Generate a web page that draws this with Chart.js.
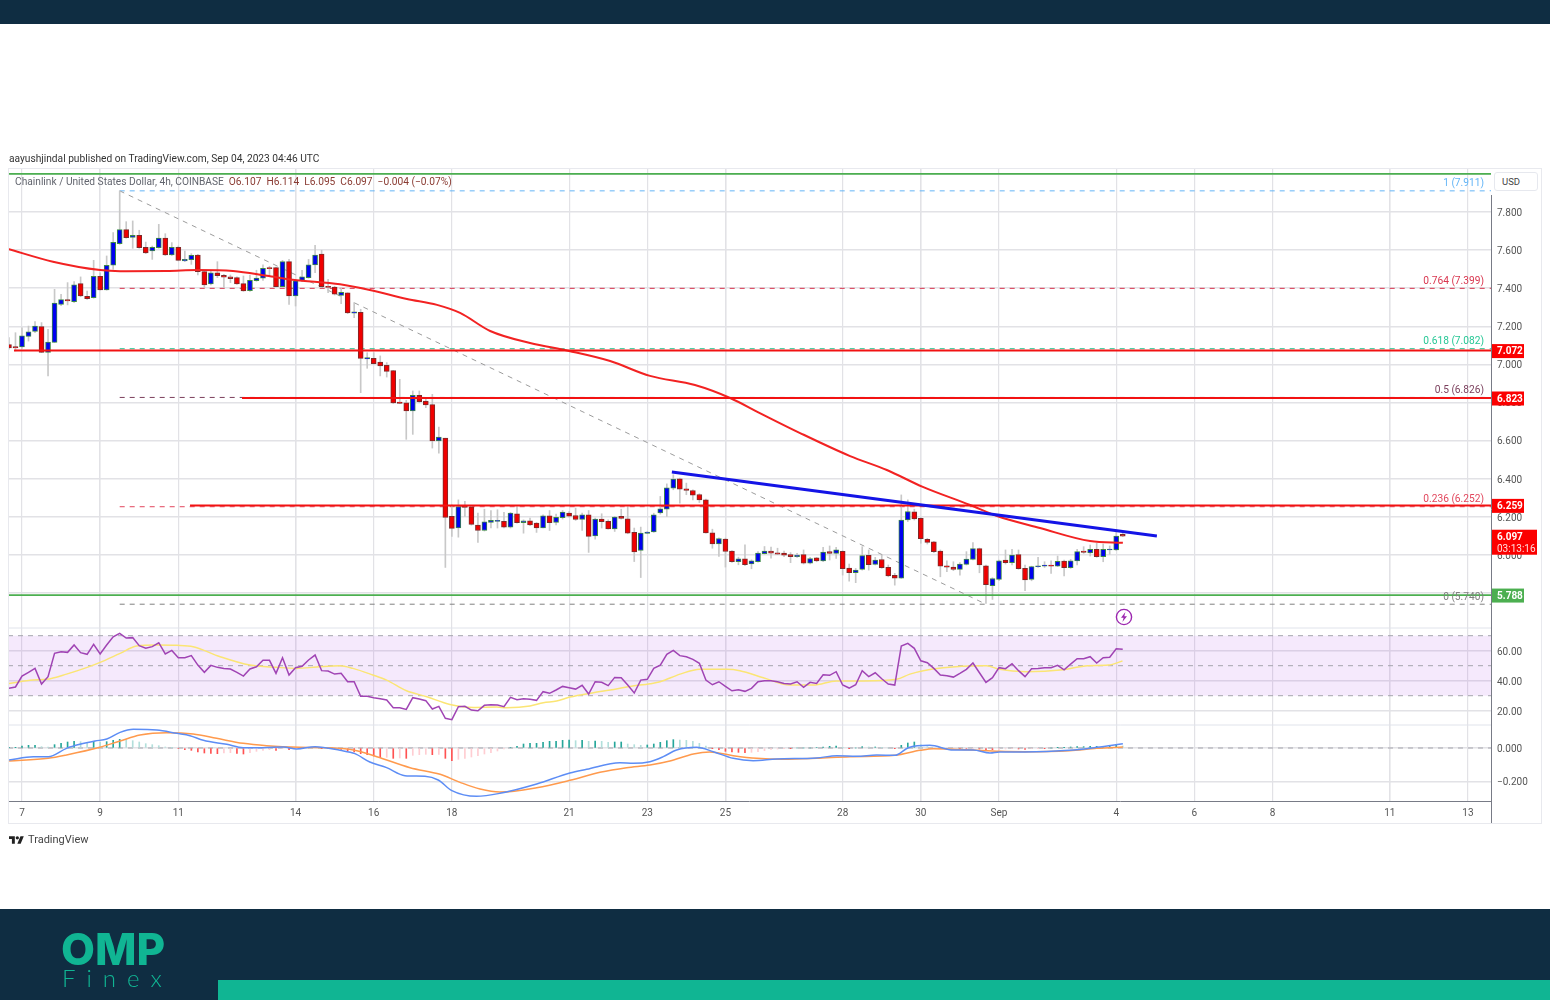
<!DOCTYPE html>
<html>
<head>
<meta charset="utf-8">
<title>Chainlink / USD</title>
<script src="https://cdn.jsdelivr.net/npm/chart.js@4/dist/chart.umd.min.js"></script>
<style>
  html, body { margin: 0; padding: 0; background: #fff; width: 1550px; height: 1000px; overflow: hidden; font-family: Roboto, sans-serif; }
  canvas { position: absolute; left: 0; top: 0; }
  .abs { position: absolute; white-space: nowrap; }
  #topBand { left: 0; top: 0; width: 1550px; height: 24px; background: #0f2d42; }
  #bottomBand { left: 0; top: 909px; width: 1550px; height: 91px; background: #0f2d42; }
  #tealBar { left: 218px; top: 980px; width: 1332px; height: 20px; background: #10b593; }
  #frame { left: 8px; top: 168px; width: 1534px; height: 656px; border: 1px solid #e8e9ee; box-sizing: border-box; }
  #usd { left: 1494px; top: 172px; width: 44px; height: 19px; border: 1px solid #e6e8ee; border-radius: 3px; box-sizing: border-box; padding-left: 7px; font-size: 9.5px; line-height: 18px; color: #444; background: #fff; }
  #published { left: 9px; top: 153px; font-size: 10.2px; color: #333; }
  #legend { left: 15px; top: 176px; font-size: 10.2px; color: #62656e; }
  #legend b { font-weight: 400; color: #8a3b32; margin-left: 5px; }
  #tvName { left: 28px; top: 833px; font-size: 11px; color: #444; }
  #omp { left: 61px; top: 922px; font-family: Inter, sans-serif; font-weight: 800; font-size: 44px; line-height: 54px; color: #10b593; }
  #finex { left: 62px; top: 963px; font-family: Lato, sans-serif; font-weight: 300; font-size: 24px; line-height: 30px; letter-spacing: 11px; color: #10b593; }
</style>
</head>
<body>
<div class="abs" id="topBand"></div>
<div class="abs" id="bottomBand"></div>
<div class="abs" id="tealBar"></div>
<canvas id="chart" width="1550" height="1000"></canvas>
<div class="abs" id="frame"></div>
<div class="abs" id="usd">USD</div>
<div class="abs" id="published">aayushjindal published on TradingView.com, Sep 04, 2023 04:46 UTC</div>
<div class="abs" id="legend">Chainlink / United States Dollar, 4h, COINBASE<b>O6.107</b><b>H6.114</b><b>L6.095</b><b>C6.097</b><b>−0.004 (−0.07%)</b></div>
<svg class="abs" style="left:9px;top:835px" width="15" height="9" viewBox="0 0 36 20"><path fill="#222" d="M14 20H7V9H0V2h14v18zM28 20h-8l7.5-18h8L28 20z"/><circle fill="#222" cx="20" cy="6" r="4"/></svg>
<div class="abs" id="tvName">TradingView</div>
<svg class="abs" style="left:1115px;top:608px" width="18" height="18" viewBox="0 0 18 18"><circle cx="9" cy="9" r="7.6" fill="#fff" stroke="#9c27b0" stroke-width="1.4"/><path fill="#9c27b0" d="M10.4 4 6 9.8h2.6L7.4 14 12 8.2H9.3z"/></svg>
<div class="abs" id="omp">OMP</div>
<div class="abs" id="finex">Finex</div>

<script>
// 4h candles, first one is Aug 6 16:00, days count from Aug 0 so Sep 1 = 32
const firstBarDay = 7 - 2 / 6;
const opens = [
  7.103,7.093,7.091,7.147,7.173,7.198,7.063,7.115,7.315,7.340,
  7.329,7.424,7.357,7.350,7.462,7.390,7.520,7.634,7.707,7.667,
  7.678,7.614,7.595,7.613,7.663,7.574,7.614,7.543,7.550,7.574,
  7.487,7.422,7.481,7.467,7.459,7.455,7.424,7.387,7.439,7.453,
  7.508,7.508,7.408,7.539,7.359,7.441,7.455,7.522,7.579,7.410,
  7.406,7.362,7.375,7.268,7.273,7.028,7.031,7.012,6.995,6.967,
  6.802,6.798,6.755,6.837,6.807,6.788,6.598,6.612,6.201,6.141,
  6.257,6.252,6.155,6.127,6.169,6.175,6.175,6.145,6.215,6.168,
  6.178,6.166,6.141,6.204,6.169,6.194,6.218,6.206,6.185,6.210,
  6.099,6.187,6.175,6.136,6.201,6.189,6.117,6.022,6.112,6.119,
  6.220,6.239,6.350,6.399,6.346,6.337,6.316,6.288,6.115,6.057,
  6.082,6.019,5.964,5.978,5.952,5.964,6.006,6.019,6.010,6.009,
  6.000,5.990,6.000,5.955,5.983,5.967,6.016,6.007,6.018,5.930,
  5.905,5.923,5.997,5.949,5.975,5.933,5.891,5.877,6.182,6.225,
  6.191,6.081,6.067,6.019,5.942,5.935,5.923,5.949,5.975,6.032,
  5.942,5.837,5.870,5.972,5.958,6.000,5.928,5.870,5.937,5.940,
  5.946,5.940,5.967,5.932,5.967,6.019,6.009,6.028,5.990,6.025,
  6.025,6.107];
const closes = [
  7.086,7.086,7.149,7.171,7.201,7.063,7.117,7.322,7.340,7.333,
  7.418,7.359,7.345,7.462,7.390,7.520,7.641,7.707,7.665,7.678,
  7.613,7.585,7.614,7.663,7.574,7.614,7.546,7.551,7.572,7.487,
  7.417,7.481,7.466,7.457,7.450,7.422,7.385,7.441,7.453,7.504,
  7.502,7.408,7.539,7.359,7.438,7.459,7.522,7.574,7.408,7.404,
  7.368,7.378,7.270,7.275,7.031,7.035,7.003,6.991,6.963,6.797,
  6.795,6.755,6.837,6.804,6.786,6.597,6.618,6.196,6.138,6.253,
  6.248,6.159,6.127,6.173,6.180,6.180,6.145,6.218,6.168,6.178,
  6.157,6.141,6.204,6.168,6.196,6.224,6.203,6.185,6.210,6.096,
  6.187,6.173,6.136,6.197,6.190,6.113,6.015,6.113,6.119,6.210,
  6.241,6.351,6.397,6.344,6.337,6.313,6.288,6.115,6.057,6.085,
  6.017,5.964,5.978,5.947,5.968,6.008,6.019,6.008,6.003,5.997,
  5.990,5.998,5.955,5.979,5.967,6.014,6.007,6.026,5.926,5.905,
  5.919,5.995,5.947,5.972,5.932,5.888,5.877,6.182,6.226,6.188,
  6.084,6.065,6.016,5.940,5.935,5.923,5.951,5.977,6.032,5.946,
  5.842,5.875,5.968,5.958,5.998,5.926,5.868,5.937,5.942,5.946,
  5.940,5.965,5.932,5.968,6.016,6.012,6.028,5.990,6.028,6.030,
  6.098,6.097];
const highs = [
  7.140,7.166,7.192,7.201,7.224,7.219,7.184,7.394,7.368,7.429,
  7.434,7.459,7.385,7.546,7.481,7.569,7.692,7.910,7.749,7.753,
  7.704,7.642,7.621,7.735,7.686,7.639,7.621,7.595,7.581,7.578,
  7.494,7.494,7.539,7.473,7.469,7.459,7.464,7.469,7.494,7.522,
  7.515,7.511,7.546,7.551,7.446,7.494,7.551,7.625,7.599,7.446,
  7.410,7.399,7.376,7.324,7.289,7.061,7.061,7.044,7.009,6.968,
  6.921,6.811,6.860,6.860,6.825,6.842,6.670,6.612,6.262,6.288,
  6.280,6.257,6.218,6.239,6.232,6.236,6.222,6.222,6.253,6.183,
  6.192,6.169,6.210,6.232,6.213,6.232,6.227,6.245,6.218,6.232,
  6.192,6.215,6.183,6.201,6.239,6.253,6.140,6.145,6.122,6.218,
  6.306,6.372,6.420,6.402,6.376,6.341,6.320,6.292,6.134,6.089,
  6.087,6.022,5.987,6.052,5.973,6.017,6.043,6.040,6.034,6.019,
  6.011,6.007,6.025,5.986,5.986,6.039,6.046,6.039,6.021,5.951,
  5.928,6.042,6.025,5.986,5.998,5.946,5.902,6.314,6.288,6.239,
  6.195,6.086,6.070,6.025,5.968,5.963,5.958,6.016,6.063,6.035,
  5.946,5.879,5.972,6.025,6.028,6.025,5.946,5.940,5.986,5.963,
  5.968,5.993,5.972,5.975,6.028,6.042,6.051,6.060,6.056,6.046,
  6.130,6.114];
const lows = [
  7.079,7.070,7.084,7.122,7.166,7.061,6.939,7.114,7.308,7.312,
  7.324,7.355,7.341,7.347,7.389,7.389,7.499,7.630,7.662,7.609,
  7.609,7.581,7.551,7.609,7.571,7.571,7.543,7.539,7.525,7.469,
  7.403,7.417,7.455,7.403,7.429,7.420,7.383,7.383,7.436,7.441,
  7.469,7.406,7.406,7.315,7.306,7.434,7.452,7.481,7.403,7.376,
  7.364,7.318,7.266,7.245,6.851,6.979,7.000,6.939,6.933,6.793,
  6.793,6.606,6.632,6.798,6.772,6.560,6.533,5.933,6.096,6.092,
  6.201,6.155,6.064,6.124,6.140,6.140,6.140,6.140,6.166,6.113,
  6.152,6.117,6.140,6.127,6.157,6.187,6.197,6.180,6.127,6.012,
  6.082,6.140,6.134,6.122,6.187,6.110,5.964,5.880,6.110,6.117,
  6.213,6.201,6.341,6.271,6.315,6.288,6.274,6.113,6.034,5.991,
  5.935,5.959,5.947,5.943,5.926,5.961,6.003,5.982,6.000,5.990,
  5.958,5.986,5.951,5.951,5.963,5.963,5.972,5.981,5.893,5.861,
  5.853,5.919,5.919,5.946,5.928,5.884,5.840,5.875,6.174,6.182,
  6.060,6.056,6.011,5.884,5.911,5.916,5.893,5.946,5.972,5.905,
  5.744,5.765,5.863,5.951,5.946,5.923,5.811,5.863,5.933,5.933,
  5.902,5.937,5.889,5.928,5.946,6.007,5.993,5.986,5.963,6.002,
  6.021,6.095];

// moving average over the candles
const emaDays = [6.642,7.793,9.0,9.51,10.71,11.48,12.40,13.27,13.93,15.14,15.90,16.85,17.62,18.21,18.98,20.0,21.0,22.05,23.07,24.22,25.12,25.88,26.91,28.19,29.13,30.05,31.26,31.95,33.05,34.33,35.17];
const emaPrices = [7.606,7.539,7.495,7.489,7.490,7.495,7.490,7.465,7.444,7.420,7.390,7.343,7.312,7.270,7.175,7.112,7.070,7.017,6.939,6.891,6.823,6.744,6.639,6.518,6.445,6.356,6.261,6.203,6.140,6.072,6.063];

// drawn levels
const levelPrices = [7.072, 6.823, 6.259];
const levelStartDays = [6.795, 12.63, 11.30];
const supportPrices = [8.0, 5.788];

// fibonacci retracement
const fibStartDay = 9.5;
const fibRatios = ['1', '0.764', '0.618', '0.5', '0.236', '0'];
const fibPrices = [7.911, 7.399, 7.082, 6.826, 6.252, 5.740];
const fibColors = ['#64b5f6', '#d9364f', '#26c795', '#7b3f5c', '#e2465c', '#808080'];

// trendlines
const diagonalDays = [9.5, 31.667];
const diagonalPrices = [7.911, 5.740];
const trendDays = [23.63, 36.04];
const trendPrices = [6.434, 6.098];

// RSI
const rsiValues = [
  34.9,35.8,43.1,45.6,48.2,37.8,42.7,58.2,59.3,58.9,
  63.8,58.7,57.6,64.2,57.8,63.8,69.3,71.6,68.4,68.7,
  63.3,61.6,62.7,65.3,57.8,60.2,55.3,55.3,56.7,50.4,
  45.6,50.2,48.9,48.2,47.8,45.6,43.1,47.8,49.3,53.6,
  53.6,44.9,55.3,43.8,48.7,49.6,53.8,57.1,46.7,46.4,
  44.4,44.9,39.3,39.3,29.6,29.6,28.7,28.0,27.1,22.0,
  22.0,20.9,28.7,27.8,26.7,21.1,22.9,14.9,14.0,22.7,
  22.9,20.4,20.0,23.6,24.0,23.8,22.7,28.9,27.3,28.0,
  27.6,26.9,32.7,31.6,33.8,36.2,35.3,34.4,36.9,31.1,
  39.3,38.9,36.7,42.2,42.0,37.1,31.8,40.4,40.9,48.2,
  50.4,57.6,60.2,56.7,56.0,54.2,51.6,40.4,37.3,39.3,
  36.2,33.3,34.0,32.9,34.9,39.3,40.0,40.0,39.3,38.2,
  37.8,39.3,35.6,38.9,38.2,44.0,43.6,46.0,37.1,35.1,
  37.3,46.7,42.7,45.3,41.3,37.8,37.1,63.1,64.9,61.6,
  53.3,52.0,48.2,43.8,43.3,42.4,44.9,47.6,51.8,45.3,
  38.9,42.0,48.7,48.0,51.3,46.7,42.7,48.0,48.2,48.7,
  48.7,50.2,47.3,51.1,54.7,54.7,56.0,51.8,55.3,55.6,
  61.3,60.9];
const rsiMaDays = [6.667,7.29,7.63,8.14,8.65,9.0,9.51,9.93,10.45,10.96,11.38,12.07,12.83,13.52,14.03,14.54,15.14,15.47,15.98,16.33,16.84,17.36,17.95,18.55,19.15,19.40,20.0,20.34,20.68,21.02,21.62,22.05,22.56,23.07,23.33,23.84,24.35,25.03,25.37,25.97,26.65,27.25,27.84,28.52,29.38,29.72,30.06,30.57,31.51,31.68,32.01,32.69,33.64,34.27,34.80,35.16];
const rsiMaValues = [38.2,40.4,40.9,44.4,48.7,52.2,58.2,63.1,63.8,63.6,62.7,56.0,50.4,48.9,48.2,49.1,50.0,48.2,43.8,40.4,33.3,29.3,24.2,22.2,22.4,22.0,23.1,25.3,26.4,29.1,32.0,33.8,36.2,38.0,39.3,44.4,47.6,47.6,46.7,42.0,37.1,37.1,39.8,39.8,40.9,44.4,46.7,48.7,50.0,50.0,47.6,46.0,47.3,50.0,50.4,53.1];
const rsiBand = [30, 70];
const rsiMid = 50;

// MACD
const macdDays = [6.67,7.29,7.67,8.14,8.48,8.87,9.17,9.51,9.85,10.45,10.96,11.30,11.64,12.24,12.66,13.17,13.69,14.03,14.50,15.14,15.52,15.90,16.33,16.80,17.31,17.65,18.0,18.63,19.23,20.17,21.02,21.45,22.30,22.64,23.07,23.41,23.75,24.26,24.69,25.2,25.71,26.31,27.33,27.85,28.36,28.87,29.34,29.68,30.23,30.83,31.34,31.77,32.02,32.65,33.8,34.5,35.17];
const macdValues = [-.072,-.052,-.052,-.002,.022,.042,.054,.094,.112,.108,.088,.074,.046,.022,.002,.002,.006,-.006,.008,-.014,-.034,-.084,-.118,-.166,-.17,-.192,-.256,-.29,-.272,-.216,-.15,-.128,-.088,-.092,-.082,-.052,-.012,.004,-.022,-.062,-.076,-.066,-.06,-.046,-.05,-.042,-.044,.002,.016,-.012,-.012,-.03,-.024,-.024,-.014,.004,.026];
const signalDays = [6.67,7.67,8.14,8.99,9.51,10.02,10.70,11.38,11.98,12.66,13.26,14.11,14.97,15.48,16.08,16.93,17.70,18.21,18.72,19.23,20.17,21.02,21.79,22.47,23.07,23.58,24.18,24.6,25.2,25.8,26.48,27.33,28.19,29.34,29.98,30.32,31.17,32.02,32.65,33.8,34.5,35.17];
const signalValues = [-.078,-.062,-.042,.004,.042,.078,.092,.084,.058,.028,.014,.004,0,-.012,-.052,-.118,-.158,-.206,-.246,-.264,-.238,-.194,-.146,-.118,-.102,-.078,-.036,-.024,-.046,-.062,-.068,-.062,-.052,-.044,-.014,-.004,-.01,-.02,-.022,-.016,-.002,.006];
const histValues = [
  .002,.002,.012,.016,.016,.008,.006,.02,.028,.036,
  .04,.038,.034,.04,.036,.038,.046,.052,.05,.044,
  .036,.026,.02,.014,.006,.002,-.004,-.01,-.014,-.024,
  -.03,-.032,-.034,-.03,-.028,-.032,-.036,-.028,-.02,-.014,
  -.01,-.014,-.004,-.01,-.006,-.002,.002,.004,-.002,-.004,
  -.006,-.008,-.016,-.024,-.034,-.04,-.048,-.058,-.056,-.062,
  -.06,-.062,-.044,-.04,-.038,-.04,-.038,-.062,-.076,-.068,
  -.062,-.054,-.046,-.036,-.028,-.018,-.006,.004,.01,.024,
  .028,.028,.034,.04,.04,.046,.048,.044,.046,.04,
  .042,.04,.034,.036,.036,.024,.02,.016,.018,.024,
  .034,.044,.05,.048,.046,.04,.028,.012,-.002,-.01,
  -.02,-.024,-.026,-.028,-.026,-.022,-.016,-.008,-.006,-.002,
  -.002,0,0,0,.004,.006,.01,.012,.002,-.002,
  0,.008,.006,.006,.002,0,-.002,.016,.03,.036,
  .02,.008,-.002,-.004,-.006,-.004,-.006,-.006,-.004,-.006,
  -.01,-.01,-.008,-.006,-.004,-.006,-.008,-.004,-.002,-.002,
  0,.002,.002,.006,.008,.008,.01,.01,.01,.01,
  .016,.012];

// axes
const tickDays = [7, 9, 11, 14, 16, 18, 21, 23, 25, 28, 30, 32, 35, 37, 39, 42, 44];
const tickLabels = ['7', '9', '11', '14', '16', '18', '21', '23', '25', '28', '30', 'Sep', '4', '6', '8', '11', '13'];
const heavyGridDays = [9, 14, 25, 30, 42];
const priceTicks = [8.0, 7.8, 7.6, 7.4, 7.2, 7.0, 6.8, 6.6, 6.4, 6.2, 6.0, 5.8];
const rsiTicks = [60, 40, 20];
const macdTicks = [0, -0.2];

const xMin = 6.642, xMax = 44.59;
const GRID = '#e2e2e6';
const tickFont = { family: 'Roboto', size: 10 };

const barDay = i => firstBarDay + i / 6;
const pts = (xs, ys) => xs.map((x, i) => ({ x, y: ys[i] }));
const seg = (x0, x1, y) => [{ x: x0, y }, { x: x1, y }];
const isUp = i => closes[i] >= opens[i];

const histColor = ctx => {
  const i = ctx.dataIndex, v = histValues[i], prev = i ? histValues[i - 1] : 0;
  if (v >= 0) return v >= prev ? '#26a69a' : '#b2dfdb';
  return v <= prev ? '#ff5252' : '#ffcdd2';
};

const line = (data, yAxisID, color, width, extra) => Object.assign({
  type: 'line', data, yAxisID, borderColor: color, borderWidth: width,
  pointRadius: 0, tension: 0, fill: false,
}, extra);
const smooth = { cubicInterpolationMode: 'monotone' };

const datasets = [
  line(pts(trendDays, trendPrices), 'price', '#1414e6', 3, { order: 1 }),
  ...levelPrices.map((p, i) => line(seg(levelStartDays[i], xMax, p), 'price', '#f21212', 2, { order: 2 })),
  ...supportPrices.map(p => line(seg(xMin, xMax, p), 'price', '#4caf50', 1.8, { order: 2 })),
  line(pts(emaDays, emaPrices), 'price', '#f22222', 2, { order: 3, ...smooth }),
  {
    type: 'bar', yAxisID: 'price', order: 5, grouped: false, barThickness: 5, borderWidth: 1, borderSkipped: false,
    data: opens.map((o, i) => ({ x: barDay(i), y: [o, closes[i]] })),
    backgroundColor: c => isUp(c.dataIndex) ? '#0000f0' : '#f00000',
    borderColor: c => isUp(c.dataIndex) ? '#3c8a46' : '#7d2a2a',
  },
  {
    type: 'bar', yAxisID: 'price', order: 6, grouped: false, barThickness: 1, borderWidth: 0,
    data: lows.map((l, i) => ({ x: barDay(i), y: [l, highs[i]] })),
    backgroundColor: '#c8c8c8',
  },
  line(pts(diagonalDays, diagonalPrices), 'price', '#9c9c9c', 1, { order: 7, borderDash: [5, 5] }),
  ...fibPrices.map((p, i) => line(seg(fibStartDay, xMax, p), 'price', fibColors[i], 1, { order: 7, borderDash: [5, 5] })),

  line(rsiValues.map((v, i) => ({ x: barDay(i), y: v })), 'rsi', '#a044b4', 1.5, { order: 1 }),
  line(pts(rsiMaDays, rsiMaValues), 'rsi', '#fbe574', 1.5, { order: 2, ...smooth }),

  line(pts(macdDays, macdValues), 'macd', '#5d8df5', 1.5, { order: 1, ...smooth }),
  line(pts(signalDays, signalValues), 'macd', '#ff9a4d', 1.5, { order: 2, ...smooth }),
  {
    type: 'bar', yAxisID: 'macd', order: 3, grouped: false, barThickness: 1, borderWidth: 0,
    data: histValues.map((v, i) => ({ x: barDay(i), y: v })),
    backgroundColor: histColor,
  },
];

const yScale = (weight, min, max, ticks, format) => ({
  type: 'linear', position: 'right', stack: 'panes', stackWeight: weight, min, max,
  beginAtZero: false,
  border: { display: false },
  grid: { color: GRID, lineWidth: 1.4, drawTicks: false },
  ticks: { color: '#555', font: tickFont, padding: 6, labelOffset: 1.5, callback: format },
  afterBuildTicks: s => { s.ticks = ticks.map(value => ({ value })); },
  afterFit: s => { s.width = 51; },
});

// band, dashes, price tags, fib captions
const overlay = {
  id: 'overlay',
  beforeDatasetsDraw(chart) {
    const { ctx, chartArea: a, scales } = chart;
    const top = scales.rsi.getPixelForValue(rsiBand[1]), bot = scales.rsi.getPixelForValue(rsiBand[0]);
    ctx.save();
    ctx.fillStyle = 'rgba(156,39,230,0.1)';
    ctx.fillRect(a.left, top, a.right - a.left, bot - top);
    ctx.strokeStyle = '#e0e3eb';
    ctx.lineWidth = 1;
    [scales.price.bottom, scales.rsi.bottom].forEach(y => {
      ctx.beginPath(); ctx.moveTo(a.left, y); ctx.lineTo(a.right, y); ctx.stroke();
    });
    ctx.strokeStyle = '#a5a5ad';
    ctx.setLineDash([5, 5]);
    [scales.rsi.getPixelForValue(rsiBand[1]), scales.rsi.getPixelForValue(rsiMid), scales.rsi.getPixelForValue(rsiBand[0]), scales.macd.getPixelForValue(0)].forEach(y => {
      ctx.beginPath(); ctx.moveTo(a.left, y); ctx.lineTo(a.right, y); ctx.stroke();
    });
    ctx.restore();
  },
  afterDraw(chart) {
    const { ctx, chartArea: a, scales } = chart;
    const py = v => scales.price.getPixelForValue(v);
    ctx.save();
    // price axis rule
    ctx.strokeStyle = '#787b86';
    ctx.lineWidth = 1;
    ctx.beginPath(); ctx.moveTo(a.right + 0.5, 195); ctx.lineTo(a.right + 0.5, 824); ctx.stroke();
    // fib captions
    ctx.font = '10.2px Roboto';
    ctx.textAlign = 'right';
    ctx.textBaseline = 'middle';
    fibPrices.forEach((p, i) => {
      ctx.fillStyle = fibColors[i];
      ctx.fillText(fibRatios[i] + ' (' + p.toFixed(3) + ')', a.right - 7, py(p) - 7);
    });
    // tags
    ctx.textAlign = 'left';
    const tag = (price, bg, w, h, lines) => {
      const y = py(price);
      ctx.fillStyle = bg;
      ctx.fillRect(a.right + 1, y - 6.5, w, h);
      ctx.font = 'bold 10px Roboto';
      ctx.fillStyle = '#fff';
      ctx.fillText(lines[0], a.right + 6, y + 1);
      if (lines[1]) {
        ctx.font = '10px Roboto';
        ctx.fillStyle = '#ffdcdc';
        ctx.fillText(lines[1], a.right + 6, y + 13);
      }
    };
    levelPrices.forEach(p => tag(p, '#fb0000', 32, 14, [p.toFixed(3)]));
    tag(supportPrices[1], '#4caf50', 32, 14, [supportPrices[1].toFixed(3)]);
    tag(closes[closes.length - 1], '#fb0000', 45, 25, [closes[closes.length - 1].toFixed(3), '03:13:16']);
    ctx.restore();
  },
};

new Chart(document.getElementById('chart'), {
  type: 'line',
  data: { datasets },
  plugins: [overlay],
  options: {
    responsive: false,
    devicePixelRatio: 1,
    animation: false,
    events: [],
    layout: { autoPadding: false, padding: { top: 168, left: 8, right: 8, bottom: 176 } },
    plugins: { legend: { display: false }, tooltip: { enabled: false } },
    scales: {
      x: {
        type: 'linear', min: xMin, max: xMax, offset: false,
        border: { display: true, color: '#787b86', width: 1 },
        grid: {
          offset: false, drawTicks: false, color: GRID,
          lineWidth: c => heavyGridDays.includes(c.tick && c.tick.value) ? 1.6 : 1.2,
        },
        ticks: {
          color: '#555', font: tickFont, padding: 6, autoSkip: false, maxRotation: 0, minRotation: 0,
          callback: v => tickLabels[tickDays.indexOf(v)],
        },
        afterBuildTicks: s => { s.ticks = tickDays.map(value => ({ value })); },
        afterFit: s => { s.height = 23; },
      },
      price: yScale(460, 5.615, 8.031, priceTicks, v => v === 8 ? '' : v.toFixed(3)),
      rsi: yScale(97, 10.47, 75.13, rsiTicks, v => v.toFixed(2)),
      macd: yScale(76, -0.318, 0.138, macdTicks, v => (v < 0 ? '−' : '') + Math.abs(v).toFixed(3)),
    },
  },
});
</script>
</body>
</html>
